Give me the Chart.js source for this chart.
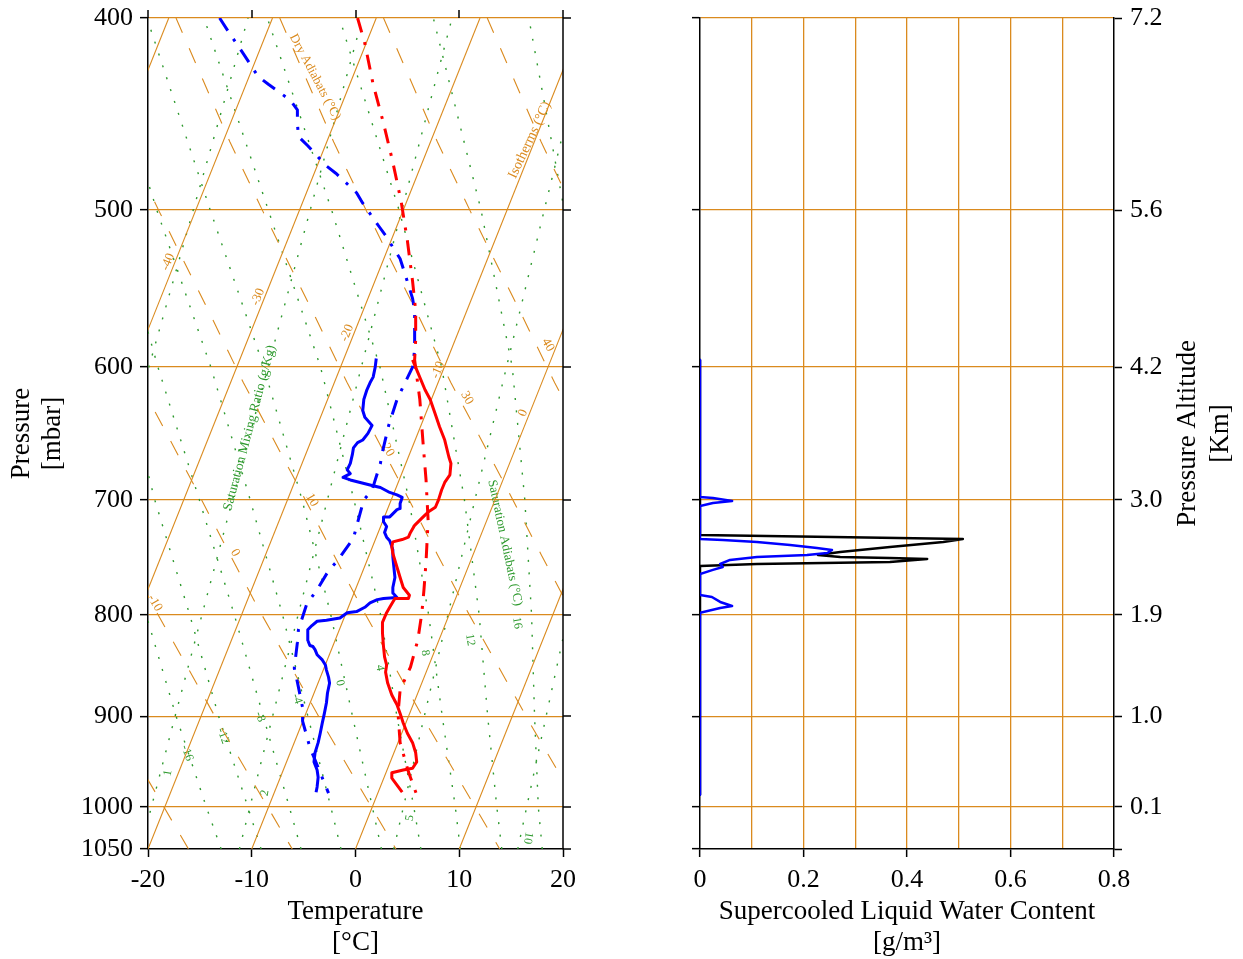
<!DOCTYPE html>
<html><head><meta charset="utf-8">
<script src="https://cdn.jsdelivr.net/npm/chart.js@4/dist/chart.umd.min.js"></script>
<style>
html,body{margin:0;padding:0;background:#fff;}
#wrap{position:relative;width:1243px;height:959px;overflow:hidden;}
#c1{position:absolute;left:0;top:0;}
#c2{position:absolute;left:620px;top:0;}
</style></head><body>
<div id="wrap"><canvas id="c1" width="620" height="959"></canvas><canvas id="c2" width="623" height="959"></canvas></div>
<script>
// ---------- axis ticks ----------
const tempTicks = [-20,-10,0,10,20];
const pressureTicks = [400,500,600,700,800,900,1000,1050];
const altitudeKm = ['7.2','5.6','4.2','3.0','1.9','1.0','0.1',''];
const lwcTicks = [0,0.1,0.2,0.3,0.4,0.5,0.6,0.7,0.8];
const lwcTickLabels = ['0','','0.2','','0.4','','0.6','','0.8'];

// ---------- sounding series (temperature axis value vs pressure) ----------
const redSolidP = [595,616,623,634,643,653,666,671,680,686,692,700,706,710,715,721,727,731,733,735,739,745,757,766,775,782,785,785,793,798,807,817,830,840,848,855,866,878,888,897,907,918,928,939,949,956,958,961,967,975,983];
const redSolidT = [5.5,6.7,7.2,7.7,8.1,8.6,9.0,9.2,9.1,8.6,8.3,8.0,7.7,7.0,6.4,5.7,5.3,5.1,4.5,3.6,3.5,3.6,4.0,4.3,4.6,5.2,5.1,3.8,3.3,3.0,2.6,2.6,2.7,2.8,3.0,2.9,3.1,3.5,4.0,4.3,4.6,5.0,5.5,5.8,5.9,5.5,4.6,3.5,3.5,4.0,4.5];

const blueSolidP = [594,600,607,611,616,623,631,636,642,648,653,655,659,664,671,676,679,682,684,688,690,694,696,698,703,707,708,714,714,718,722,727,731,734,739,742,748,757,766,775,780,784,785,786,789,793,797,798,803,805,806,810,814,824,829,830,833,838,843,848,853,860,866,876,886,897,907,918,928,939,949,958,966,977,983];
const blueSolidT = [2.0,1.9,1.7,1.4,1.1,0.8,0.7,0.9,1.6,1.2,0.7,0.2,-0.2,-0.3,-0.5,-0.8,-0.5,-1.2,-0.5,1.4,2.4,3.3,4.0,4.5,4.3,4.3,4.0,3.3,2.7,2.7,3.0,2.8,3.0,3.3,3.5,3.6,3.6,3.7,3.8,3.6,3.6,4.0,2.7,2.1,1.4,0.9,0.1,-0.8,-1.5,-2.8,-3.7,-4.2,-4.6,-4.6,-4.4,-4.1,-3.9,-3.7,-3.2,-2.9,-2.8,-2.6,-2.5,-2.7,-2.8,-3.0,-3.2,-3.4,-3.6,-3.9,-4.0,-3.7,-3.6,-3.7,-3.8];

const redDashP = [400,412,432,452,473,495,518,543,562,581,595,623,654,684,717,752,777,798,824,850,873,897,928,960,986];
const redDashT = [0.2,0.9,1.7,2.7,3.6,4.4,5.0,5.5,5.8,5.8,5.7,6.2,6.5,6.8,7.0,6.8,6.6,6.4,6.0,5.3,4.3,4.1,4.3,5.1,5.9];

const blueDashP = [400,406,417,428,432,440,445,452,459,464,475,479,490,496,509,515,529,537,554,562,588,600,623,642,662,671,692,700,722,732,752,760,777,790,814,826,851,865,891,905,933,984];
const blueDashT = [-13.1,-12.3,-10.8,-9.4,-8.4,-6.3,-5.6,-5.6,-5.5,-4.6,-2.8,-1.9,0.1,0.7,2.2,2.9,4.3,4.7,5.5,5.7,5.7,5.5,4.0,3.2,2.6,2.4,1.6,0.8,0.1,-0.2,-1.8,-2.6,-3.7,-4.7,-5.5,-5.6,-5.9,-5.6,-5.1,-5.1,-4.4,-2.6];

// ---------- supercooled liquid water content ----------
const lwcBlueP = [595,697.6,698.4,700.9,702.5,705.0,732.5,733.3,735.1,737.7,740.3,742.0,744.5,746.3,748.0,750.6,754.1,756.7,759.3,762.9,781.8,783.6,788.1,791.8,793.6,798.2,986];
const lwcBlueV = [0,0,0.025,0.062,0.025,0,0,0.044,0.110,0.174,0.226,0.255,0.246,0.207,0.110,0.058,0.039,0.044,0.025,0,0,0.023,0.039,0.062,0.039,0,0];
const lwcBlackP = [595,729.1,730.8,732.5,735.1,739.4,743.7,746.3,748.0,748.9,749.7,752.4,753.2,754.1,755.9,986];
const lwcBlackV = [0,0,0.257,0.508,0.470,0.367,0.271,0.228,0.271,0.367,0.439,0.367,0.238,0.110,0,0];

// ---------- skew-T guide lines ----------
const isothermBottomT = [-50,-40,-30,-20,-10,0,10,20];   // value at 1050 mbar
const isothermTopT    = [-18,-8,2,12,22,32,42,52];        // value at 400 mbar
const dryRefP = [400,462,501,563,611,686,746,797,850,907,967,1050];   // the 20 degC dry adiabat
const dryRefT = [-17.3,-12.1,-8.9,-4.1,-0.8,4.3,7.9,10.8,13.8,16.8,19.9,23.9];
const dryAdiabatTheta = [-20,-10,0,10,20,30,40,50];
const guideP = [1050,1000,900,800,700,600,500,400];
const satM16 = [-12.95,-14.38,-17.29,-20.18,-23.5];
const satM12 = [-9.1,-10.38,-13.19,-15.98,-19.35,-22.6];
const satM8  = [-5.25,-6.38,-8.89,-11.68,-15.05,-19.04,-23.3];
const satM4  = [-1.4,-2.38,-4.59,-7.03,-10.15,-13.94,-19.15,-25.0];
const sat0   = [2.5,1.62,-0.29,-2.38,-5.15,-8.84,-14.0,-20.1];
const sat4   = [6.3,5.62,3.99,2.42,-0.15,-3.37,-8.4,-14.6];
const sat8   = [10.1,9.62,8.36,7.05,5.15,2.36,-2.3,-8.5];
const sat12  = [14.1,13.62,12.74,11.92,10.5,8.31,4.2,-1.55];
const sat16  = [18.0,17.62,17.26,16.97,16.32,15.11,12.1,7.5];
const sat20  = [22.0,21.62,21.3,21.8,22.0,21.79,20.12,16.7];
const mixA   = [null,null,null,null,-23.51,-19.92,-15.64,-10.36];
const mix1   = [-20.74,-19.67,-17.39,-14.80,-11.86,-8.44,-4.37,0.67];
const mix2   = [-11.19,-10.18,-7.99,-5.53,-2.71,0.56,4.46,9.31];
const mix5   = [3.69,4.62,6.63,8.91,11.51,14.55,18.19,22.71];
const mix10  = [15.64,16.50,18.37,20.49,22.9];

const guideTexts = [
  {t:'Dry Adiabats (°C)', x:-3.9, p:428.4, r:62, k:'o', s:13},
  {t:'Isotherms (°C)', x:16.8, p:460.9, r:-65, k:'o', s:14},
  {t:'Saturation Mixing Ratio (g/Kg)', x:-10.2, p:643.9, r:-75, k:'g', s:13.5},
  {t:'Saturation Adiabats (°C)', x:14.4, p:735.9, r:78, k:'g', s:13},
  {t:'-40', x:-18.07, p:531.0, r:-68, k:'o', s:13},
  {t:'-30', x:-9.40, p:553.1, r:-68, k:'o', s:13},
  {t:'-20', x:-0.82, p:576.7, r:-68, k:'o', s:13},
  {t:'-10', x:7.95, p:602.0, r:-68, k:'o', s:13},
  {t:'0', x:16.14, p:632.8, r:-68, k:'o', s:13},
  {t:'40', x:18.55, p:584.8, r:60, k:'o', s:13},
  {t:'30', x:10.75, p:621.9, r:60, k:'o', s:13},
  {t:'20', x:3.13, p:660.6, r:60, k:'o', s:13},
  {t:'10', x:-4.19, p:700.1, r:60, k:'o', s:13},
  {t:'0', x:-11.61, p:744.5, r:60, k:'o', s:13},
  {t:'-10', x:-19.33, p:789.0, r:60, k:'o', s:13},
  {t:'0', x:-1.5, p:865.9, r:80, k:'g', s:12},
  {t:'4', x:2.36, p:850.9, r:80, k:'g', s:12},
  {t:'8', x:6.7, p:836.2, r:80, k:'g', s:12},
  {t:'12', x:11.04, p:823.7, r:80, k:'g', s:12},
  {t:'16', x:15.57, p:807.6, r:80, k:'g', s:12},
  {t:'-4', x:-5.64, p:882.1, r:70, k:'g', s:12},
  {t:'-8', x:-9.2, p:900.7, r:70, k:'g', s:12},
  {t:'-12', x:-12.77, p:920.8, r:70, k:'g', s:12},
  {t:'-16', x:-16.24, p:939.2, r:70, k:'g', s:12},
  {t:'1', x:-18.07, p:961.2, r:-80, k:'g', s:12},
  {t:'2', x:-8.72, p:983.9, r:-80, k:'g', s:12},
  {t:'5', x:5.25, p:1012.8, r:-80, k:'g', s:12},
  {t:'10', x:16.63, p:1036.6, r:100, k:'g', s:12}
];

// ---------- styling ----------
const FONT = "'Liberation Serif','Times New Roman',serif";
const ORANGE = '#DA8A1E';
const GREEN = '#2E9A2E';
const CLEAR = 'rgba(0,0,0,0)';

function xy(xs, ps){ const out=[]; for(let i=0;i<xs.length;i++){ if(xs[i]!==null && ps[i]!==undefined) out.push({x:xs[i], y:ps[i]}); } return out; }
function lineDs(data, color, width, dash, order){
  return {data, borderColor:color, backgroundColor:color, borderWidth:width, borderDash:dash||[],
    showLine:true, pointRadius:0, pointHoverRadius:0, tension:0, order, fill:false,
    borderCapStyle:'butt', borderJoinStyle:'round'};
}
function noPadY(s){ s.paddingTop = 0; s.paddingBottom = 0; }

const leftDatasets = [
  lineDs(xy(redSolidT, redSolidP), '#FF0000', 3, [], 1),
  lineDs(xy(blueSolidT, blueSolidP), '#0000FF', 3, [], 2),
  lineDs(xy(redDashT, redDashP), '#FF0000', 3, [15,10,3,10], 3),
  lineDs(xy(blueDashT, blueDashP), '#0000FF', 3, [15,10,3,10], 4)
];
isothermBottomT.forEach((t,i)=>{
  leftDatasets.push(lineDs([{x:t,y:1050},{x:isothermTopT[i],y:400}], ORANGE, 1.1, [], 20));
});
dryAdiabatTheta.forEach(th=>{
  leftDatasets.push(lineDs(dryRefP.map((p,j)=>({x:dryRefT[j]+(th-20), y:p})), ORANGE, 1.1, [16,17], 21));
});
[satM16,satM12,satM8,satM4,sat0,sat4,sat8,sat12,sat16,sat20,mixA,mix1,mix2,mix5,mix10].forEach(arr=>{
  leftDatasets.push(lineDs(xy(arr, guideP), GREEN, 1.4, [2,10.5], 22));
});

const frame1 = {
  id:'frame1',
  beforeDatasetsDraw(chart){
    const {ctx, chartArea:a, scales:{x,y}} = chart;
    ctx.save();
    ctx.beginPath(); ctx.rect(a.left,a.top,a.width,a.height); ctx.clip();
    ctx.textAlign='center'; ctx.textBaseline='middle';
    guideTexts.forEach(g=>{
      ctx.save();
      ctx.translate(x.getPixelForValue(g.x), y.getPixelForValue(g.p));
      ctx.rotate(g.r*Math.PI/180);
      ctx.font = g.s+'px '+FONT;
      ctx.fillStyle = g.k==='o' ? ORANGE : GREEN;
      ctx.fillText(g.t,0,0);
      ctx.restore();
    });
    ctx.restore();
  },
  afterDraw(chart){
    const {ctx, chartArea:a, scales:{x,y}} = chart;
    ctx.save();
    ctx.strokeStyle='#000'; ctx.lineWidth=1.5;
    ctx.beginPath(); ctx.moveTo(a.right, a.top); ctx.lineTo(a.right, a.bottom+0.5); ctx.stroke();
    pressureTicks.forEach(p=>{
      const py = Math.round(y.getPixelForValue(p));
      ctx.beginPath(); ctx.moveTo(a.right, py); ctx.lineTo(a.right+8, py); ctx.stroke();
    });
    tempTicks.forEach(t=>{
      const px = Math.round(x.getPixelForValue(t));
      ctx.beginPath(); ctx.moveTo(px, a.top); ctx.lineTo(px, a.top-8); ctx.stroke();
    });
    ctx.restore();
  }
};

new Chart(document.getElementById('c1'), {
  type:'scatter',
  data:{datasets:leftDatasets},
  options:{
    responsive:false, animation:false, events:[],
    layout:{padding:{top:18, right:57, left:0, bottom:0}},
    plugins:{legend:{display:false}, tooltip:{enabled:false}},
    scales:{
      x:{type:'linear', min:-20, max:20, position:'bottom',
        afterBuildTicks:s=>{ s.ticks = tempTicks.map(v=>({value:v})); },
        ticks:{font:{family:FONT,size:26}, color:'#000', padding:8, autoSkip:false, maxRotation:0, callback:v=>String(v)},
        grid:{drawOnChartArea:false, drawTicks:true, tickLength:8, tickColor:'#000', tickWidth:1.5},
        border:{display:true, color:'#000', width:1.5},
        title:{display:true, text:['Temperature','[°C]'], font:{family:FONT,size:27,lineHeight:1.15}, color:'#000', padding:{top:0,bottom:1}},
        afterFit:s=>{ s.height = 110; s.paddingLeft = 0; s.paddingRight = 0; }
      },
      y:{type:'logarithmic', reverse:true, min:400, max:1050, position:'left',
        afterBuildTicks:s=>{ s.ticks = pressureTicks.map(v=>({value:v})); },
        ticks:{font:{family:FONT,size:26}, color:'#000', padding:7, autoSkip:false, callback:v=>String(v)},
        grid:{color:c=>(c.tick && c.tick.value===1050) ? CLEAR : ORANGE, lineWidth:1.3, drawTicks:true, tickLength:8, tickColor:'#000', tickWidth:1.5},
        border:{display:true, color:'#000', width:1.5},
        title:{display:true, text:['Pressure','[mbar]'], font:{family:FONT,size:27,lineHeight:1.15}, color:'#000', padding:{top:6,bottom:0}},
        afterFit:s=>{ s.width = 148; noPadY(s); }
      }
    }
  },
  plugins:[frame1]
});

// ---------- right panel ----------
const frame2 = {
  id:'frame2',
  afterDraw(chart){
    const {ctx, chartArea:a} = chart;
    ctx.save();
    ctx.font = '27px '+FONT; ctx.fillStyle='#000'; ctx.textAlign='center'; ctx.textBaseline='middle';
    ctx.translate(1188-620, (a.top+a.bottom)/2);
    ctx.rotate(-Math.PI/2);
    ctx.fillText('Pressure Altitude', 0, 0);
    ctx.fillText('[Km]', 0, 33);
    ctx.restore();
  }
};

new Chart(document.getElementById('c2'), {
  type:'scatter',
  data:{datasets:[
    lineDs(xy(lwcBlueV, lwcBlueP), '#0000FF', 2.5, [], 1),
    lineDs(xy(lwcBlackV, lwcBlackP), '#000000', 2.5, [], 2)
  ]},
  options:{
    responsive:false, animation:false, events:[],
    layout:{padding:{top:18, right:0, left:0, bottom:0}},
    plugins:{legend:{display:false}, tooltip:{enabled:false}},
    scales:{
      x:{type:'linear', min:0, max:0.8, position:'bottom',
        afterBuildTicks:s=>{ s.ticks = lwcTicks.map(v=>({value:v})); },
        ticks:{font:{family:FONT,size:26}, color:'#000', padding:8, autoSkip:false, maxRotation:0, callback:(v,i)=>lwcTickLabels[i]},
        grid:{color:c=>(c.index===0||c.index===8) ? CLEAR : ORANGE, lineWidth:1.3, drawTicks:true, tickLength:8,
              tickColor:c=>(c.index%2===0) ? '#000' : CLEAR, tickWidth:1.5},
        border:{display:true, color:'#000', width:1.5},
        title:{display:true, text:['Supercooled Liquid Water Content','[g/m³]'], font:{family:FONT,size:27,lineHeight:1.15}, color:'#000', padding:{top:0,bottom:1}},
        afterFit:s=>{ s.height = 110; s.paddingLeft = 0; s.paddingRight = 0; }
      },
      y:{type:'logarithmic', reverse:true, min:400, max:1050, position:'left',
        afterBuildTicks:s=>{ s.ticks = pressureTicks.map(v=>({value:v})); },
        ticks:{display:true, font:{family:FONT,size:26}, color:'#000', padding:7, autoSkip:false, callback:()=>''},
        grid:{color:c=>(c.tick && c.tick.value===1050) ? CLEAR : ORANGE, lineWidth:1.3, drawTicks:true, tickLength:8, tickColor:'#000', tickWidth:1.5},
        border:{display:true, color:'#000', width:1.5},
        afterFit:s=>{ s.width = 80; noPadY(s); }
      },
      y2:{type:'logarithmic', reverse:true, min:400, max:1050, position:'right',
        afterBuildTicks:s=>{ s.ticks = pressureTicks.map(v=>({value:v})); },
        ticks:{font:{family:FONT,size:26}, color:'#000', padding:8, autoSkip:false, callback:(v,i)=>altitudeKm[i]},
        grid:{drawOnChartArea:false, drawTicks:true, tickLength:8, tickColor:'#000', tickWidth:1.5},
        border:{display:true, color:'#000', width:1.5},
        afterFit:s=>{ s.width = 129; noPadY(s); }
      }
    }
  },
  plugins:[frame2]
});
</script>
</body></html>
